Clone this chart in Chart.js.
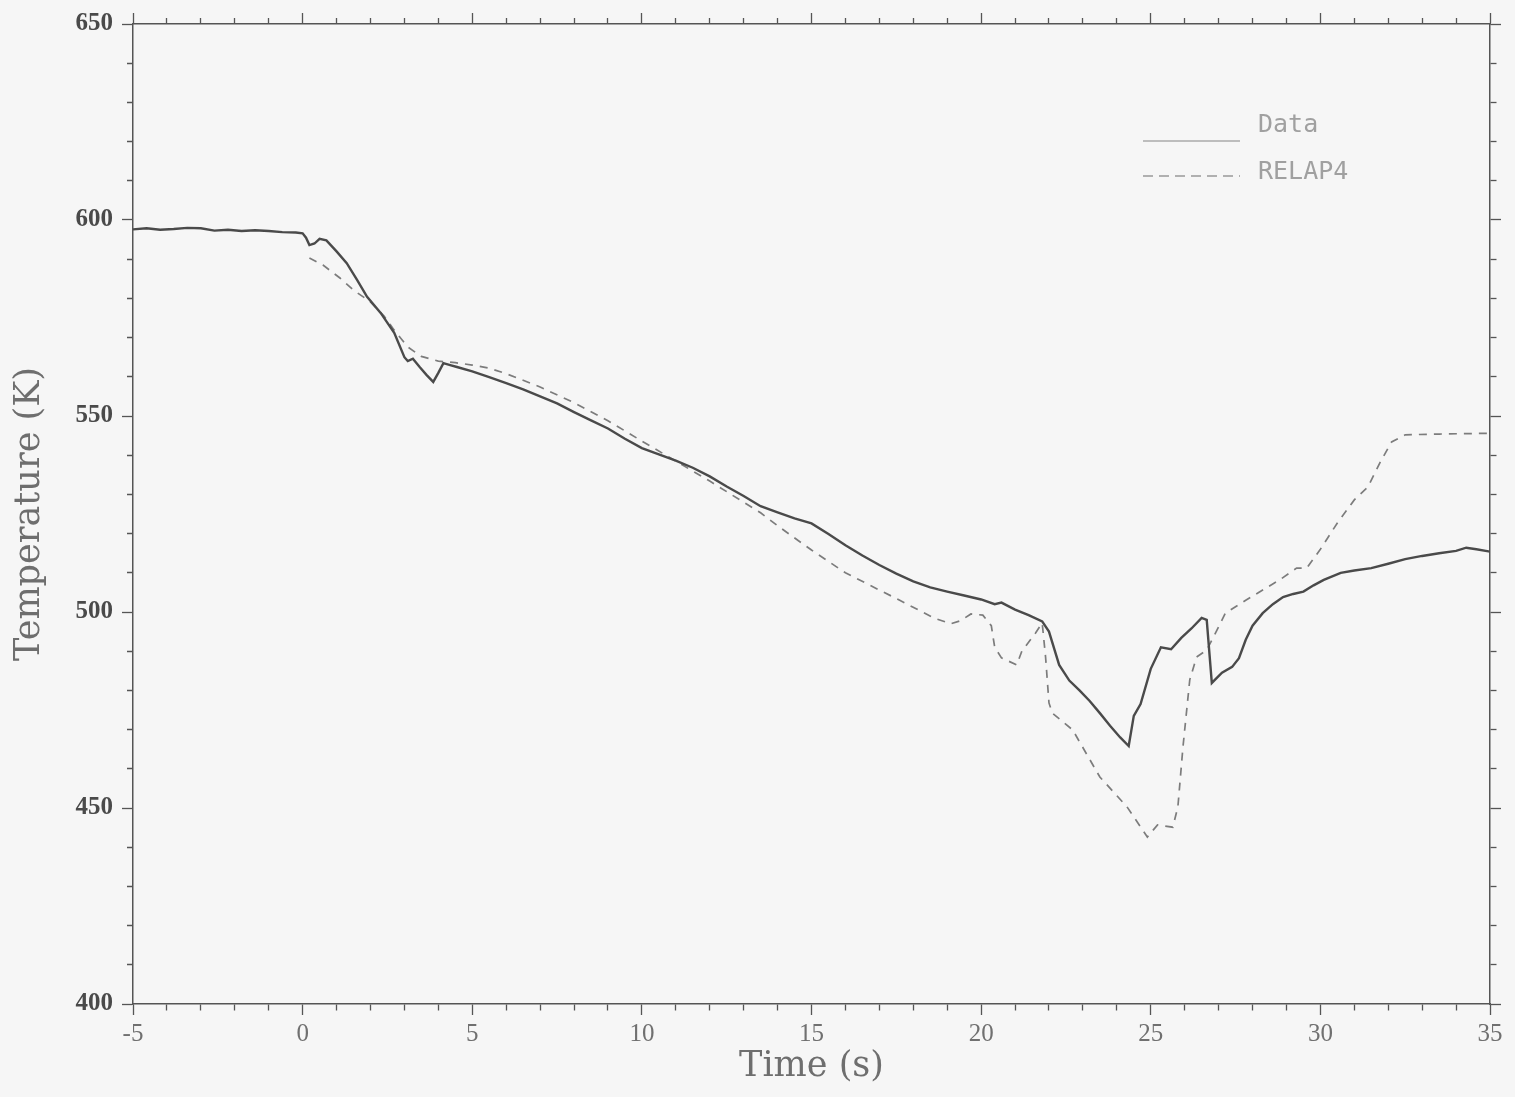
<!DOCTYPE html>
<html>
<head>
<meta charset="utf-8">
<script src="https://cdn.jsdelivr.net/npm/chart.js@4"></script>
<style>
  html, body { margin: 0; padding: 0; background: #f6f6f6; }
  #wrap { width: 1515px; height: 1097px; }
</style>
</head>
<body>
<div id="wrap"><canvas id="myChart"></canvas></div>
<script>
// measured data (thermocouple)
var dataTime = [-5.0, -4.6, -4.2, -3.8, -3.4, -3.0, -2.6, -2.2, -1.8, -1.4, -1.0, -0.6, -0.2, 0.0,
    0.1, 0.2, 0.35, 0.5, 0.7, 1.0, 1.3, 1.6, 1.9, 2.3, 2.7, 3.0, 3.1, 3.25, 3.45, 3.65, 3.85,
    4.0, 4.15, 4.35, 4.55, 5.0, 5.5, 6.0, 6.5, 7.0, 7.5, 8.0, 8.5, 9.0, 9.5, 10.0, 10.5, 11.0,
    11.5, 12.0, 12.5, 13.0, 13.5, 14.0, 14.5, 15.0, 15.5, 16.0, 16.5, 17.0, 17.5, 18.0, 18.5,
    19.0, 19.5, 20.0, 20.4, 20.6, 21.0, 21.4, 21.8, 22.0, 22.3, 22.6, 22.9, 23.2, 23.5, 23.8,
    24.1, 24.35, 24.5, 24.7, 25.0, 25.3, 25.6, 25.9, 26.2, 26.5, 26.65, 26.8, 27.1, 27.4, 27.6,
    27.8, 28.0, 28.3, 28.6, 28.9, 29.2, 29.5, 29.8, 30.1, 30.6, 31.0, 31.5, 32.0, 32.5, 33.0,
    33.5, 34.0, 34.3, 34.6, 35.0];
var dataTemp = [597.6, 597.9, 597.5, 597.7, 598.0, 597.9, 597.3, 597.5, 597.2, 597.4, 597.2, 596.9, 596.8, 596.6,
    595.5, 593.6, 594.0, 595.2, 594.8, 592.0, 589.0, 584.8, 580.4, 576.3, 571.2, 565.0, 564.0, 564.6, 562.5, 560.5, 558.7,
    561.0, 563.5, 563.0, 562.5, 561.4, 559.9, 558.4, 556.8, 555.0, 553.2, 551.0, 548.9, 546.8, 544.2, 541.8, 540.2, 538.6,
    536.8, 534.6, 532.0, 529.6, 527.0, 525.4, 523.9, 522.6, 519.9, 517.0, 514.4, 512.0, 509.8, 507.8, 506.3,
    505.2, 504.2, 503.2, 502.0, 502.4, 500.6, 499.2, 497.6, 495.0, 486.5, 482.5, 480.0, 477.3, 474.2, 471.0,
    468.0, 465.8, 473.5, 476.5, 485.5, 491.0, 490.5, 493.4, 495.8, 498.5, 498.0, 481.9, 484.5, 486.0, 488.2,
    492.9, 496.5, 499.7, 502.0, 503.8, 504.6, 505.2, 506.8, 508.2, 510.0, 510.6, 511.2, 512.3, 513.5, 514.3,
    515.0, 515.6, 516.4, 516.0, 515.4];

// RELAP4 calculation
var relapTime = [0.2, 0.6, 1.1, 1.5, 2.0, 2.4, 2.7, 3.1, 3.5, 4.0, 4.5, 5.0, 5.5, 6.0, 7.0, 8.0, 9.0,
    10.0, 11.0, 12.0, 13.0, 13.5, 14.0, 15.0, 16.0, 17.0, 17.6, 18.6, 19.1, 19.4, 19.7, 20.05, 20.3,
    20.4, 20.6, 21.05, 21.2, 21.6, 21.8, 21.9, 22.0, 22.1, 22.7, 23.5, 24.3, 24.9, 25.2, 25.65, 25.8,
    25.95, 26.15, 26.35, 26.65, 27.0, 27.2, 27.8, 28.3, 28.8, 29.3, 29.6, 30.0, 30.5, 31.0, 31.4,
    31.75, 32.1, 32.5, 33.5, 35.0];
var relapTemp = [590.3, 588.5, 585.2, 582.1, 579.1, 575.5, 571.9, 567.6, 565.2, 564.0, 563.6, 563.0, 562.2, 560.8, 557.4, 553.4, 548.8,
    543.6, 538.5, 533.4, 528.0, 525.3, 522.0, 515.8, 510.0, 505.6, 503.0, 498.5, 497.0, 497.8, 499.5, 499.2, 496.5,
    491.0, 488.3, 486.5, 490.0, 494.6, 497.2, 488.5, 476.8, 474.2, 469.9, 457.9, 450.3, 442.6, 445.7, 445.1, 450.3,
    465.6, 482.7, 488.5, 490.3, 496.2, 499.7, 503.0, 505.6, 508.2, 511.2, 511.2, 516.0, 522.7, 528.6, 531.9,
    538.0, 543.4, 545.2, 545.4, 545.6];

var seriesLabels = ['Data', 'RELAP4'];
var xRange = [-5, 35];
var yRange = [400, 650];

function pts(xs, ys) {
    return xs.map(function (x, i) { return {x: x, y: ys[i]}; });
}

var AXIS = '#555';
var SERIF = "'Liberation Serif', 'DejaVu Serif', serif";
var TITLE = "'DejaVu Serif', 'Liberation Serif', serif";

// minor ticks only draw the inner 6px of a 11px tick
function tickDash(outerFirst, major) {
    return function (c) {
        var v = c.tick ? c.tick.value : 0;
        if (v % major === 0) return [];
        return outerFirst ? [0, 5, 6, 100] : [6, 100];
    };
}

var legendPlugin = {
    id: 'insideLegend',
    afterDraw: function (chart) {
        var ctx = chart.ctx;
        var a = chart.chartArea;
        var rows = [{y: 141, ty: 125}, {y: 176, ty: 172}];
        ctx.save();
        ctx.font = "25px 'DejaVu Sans Mono', 'Liberation Mono', monospace";
        ctx.textBaseline = 'middle';
        chart.data.datasets.forEach(function (ds, i) {
            var r = rows[i];
            ctx.strokeStyle = i === 0 ? '#aaa' : '#999';
            ctx.lineWidth = 1.5;
            ctx.setLineDash(i === 0 ? [] : [10, 6]);
            ctx.beginPath();
            ctx.moveTo(a.right - 347, r.y);
            ctx.lineTo(a.right - 250, r.y);
            ctx.stroke();
            ctx.setLineDash([]);
            ctx.fillStyle = '#a0a0a0';
            ctx.fillText(ds.label, a.right - 232, r.ty);
        });
        ctx.restore();
    }
};

var ctx = document.getElementById('myChart');
var myChart = new Chart(ctx, {
    type: 'line',
    data: {
        datasets: [
            {
                label: seriesLabels[0],
                data: pts(dataTime, dataTemp),
                borderColor: '#4a4a4a',
                borderWidth: 2.4,
                pointRadius: 0,
                tension: 0,
                fill: false
            },
            {
                label: seriesLabels[1],
                data: pts(relapTime, relapTemp),
                borderColor: '#7c7c7c',
                borderWidth: 1.7,
                borderDash: [8, 7],
                pointRadius: 0,
                tension: 0,
                fill: false
            }
        ]
    },
    options: {
        responsive: true,
        maintainAspectRatio: false,
        animation: false,
        layout: {padding: 0},
        plugins: {
            legend: {display: false},
            tooltip: {enabled: false}
        },
        scales: {
            x: {
                type: 'linear',
                position: 'bottom',
                min: xRange[0], max: xRange[1],
                afterFit: function (s) { s.height = 93; },
                border: {display: true, color: AXIS, width: 1.5},
                grid: {drawOnChartArea: false, tickLength: 11, tickColor: AXIS, tickWidth: 1.3,
                    tickBorderDash: tickDash(false, 5)},
                ticks: {
                    stepSize: 1, autoSkip: false, maxRotation: 0, padding: 4,
                    color: '#707070', font: {family: SERIF, size: 25},
                    callback: function (v) { return v % 5 === 0 ? String(v) : ''; }
                },
                title: {display: true, text: 'Time (s)', color: '#6e6e6e',
                    font: {family: TITLE, size: 35}, padding: {bottom: 9}}
            },
            x2: {
                type: 'linear',
                position: 'top',
                min: xRange[0], max: xRange[1],
                afterFit: function (s) { s.height = 24; },
                border: {display: true, color: AXIS, width: 1.5},
                grid: {drawOnChartArea: false, tickLength: 11, tickColor: AXIS, tickWidth: 1.3,
                    tickBorderDash: tickDash(true, 5)},
                ticks: {stepSize: 1, autoSkip: false, display: false}
            },
            y: {
                type: 'linear',
                position: 'left',
                min: yRange[0], max: yRange[1],
                afterFit: function (s) { s.width = 133; },
                border: {display: true, color: AXIS, width: 1.5},
                grid: {drawOnChartArea: false, tickLength: 11, tickColor: AXIS, tickWidth: 1.3,
                    tickBorderDash: tickDash(true, 50)},
                ticks: {
                    stepSize: 10, autoSkip: false, padding: 9,
                    color: '#4a4a4a', font: {family: SERIF, size: 25, weight: 'bold'},
                    callback: function (v) { return v % 50 === 0 ? String(v) : ''; }
                },
                title: {display: true, text: 'Temperature (K)', color: '#6e6e6e',
                    font: {family: TITLE, size: 35}, padding: {top: 9}}
            },
            y2: {
                type: 'linear',
                position: 'right',
                min: yRange[0], max: yRange[1],
                afterFit: function (s) { s.width = 25; },
                border: {display: true, color: AXIS, width: 1.5},
                grid: {drawOnChartArea: false, tickLength: 11, tickColor: AXIS, tickWidth: 1.3,
                    tickBorderDash: tickDash(false, 50)},
                ticks: {stepSize: 10, autoSkip: false, display: false}
            }
        }
    },
    plugins: [legendPlugin]
});
</script>
</body>
</html>
